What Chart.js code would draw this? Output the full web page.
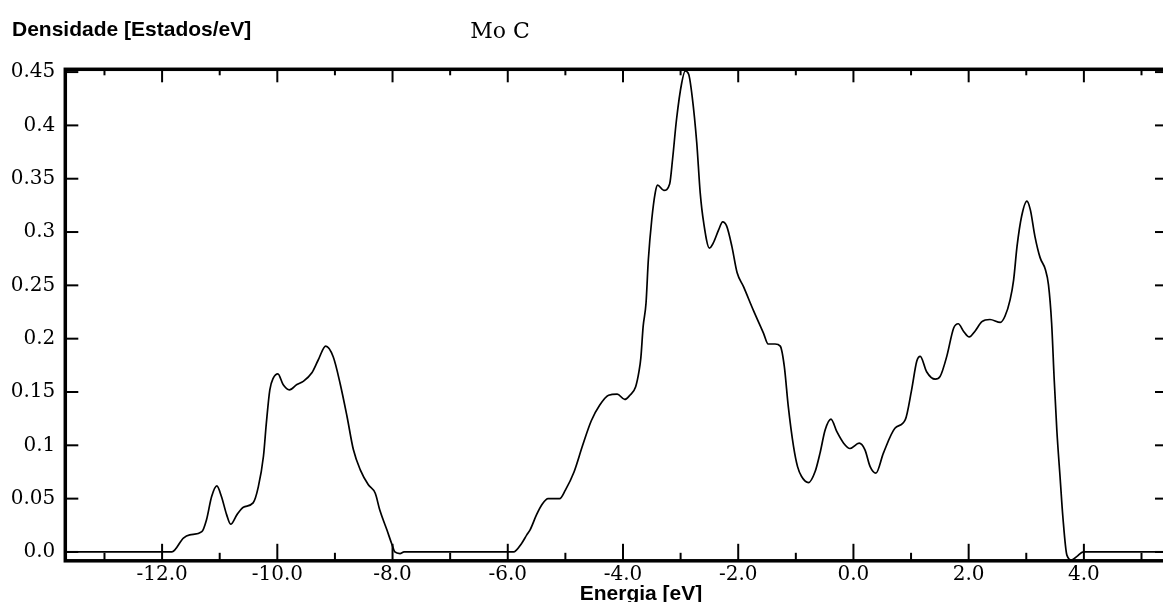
<!DOCTYPE html>
<html>
<head>
<meta charset="utf-8">
<script src="https://cdn.jsdelivr.net/npm/chart.js@4.4.1/dist/chart.umd.min.js"></script>
<style>
  html, body { margin: 0; padding: 0; background: #fff; overflow: hidden; width: 1163px; height: 602px; }
  #wrap { width: 1180px; height: 602px; }
  canvas { display: block; }
</style>
</head>
<body>
<div id="wrap"><canvas id="c" width="1180" height="602"></canvas></div>
<script>
// ---- data ----
const energy = [-14, -11.83, -11.63, -11.52, -11.31, -11.23, -11.14, -11.05, -10.97, -10.88,
  -10.81, -10.70, -10.59, -10.42, -10.33, -10.24, -10.19, -10.13, -10.07, -9.99,
  -9.90, -9.79, -9.66, -9.55, -9.40, -9.29, -9.16, -9.03, -8.91, -8.79,
  -8.68, -8.56, -8.42, -8.30, -8.22, -8.10, -8.01, -7.96, -7.87, -7.80,
  -5.90, -5.76, -5.67, -5.61, -5.50, -5.40, -5.30, -5.10, -5.00, -4.85,
  -4.70, -4.55, -4.40, -4.25, -4.10, -3.97, -3.88, -3.78, -3.72, -3.69,
  -3.65, -3.60, -3.56, -3.50, -3.44, -3.40, -3.29, -3.19, -3.14, -3.07,
  -2.98, -2.92, -2.86, -2.80, -2.72, -2.66, -2.60, -2.50, -2.43, -2.34,
  -2.27, -2.20, -2.11, -2.02, -1.91, -1.74, -1.56, -1.48, -1.36, -1.27,
  -1.20, -1.13, -1.04, -0.97, -0.90, -0.78, -0.665, -0.58, -0.49, -0.39,
  -0.29, -0.17, -0.06, 0.10, 0.20, 0.29, 0.39, 0.52, 0.72, 0.90,
  1.01, 1.10, 1.16, 1.27, 1.42, 1.505, 1.62, 1.74, 1.82, 1.91,
  2.01, 2.11, 2.23, 2.37, 2.55, 2.63, 2.72, 2.78, 2.84, 2.92,
  3.01, 3.07, 3.15, 3.24, 3.33, 3.385, 3.44, 3.485, 3.53, 3.59,
  3.635, 3.705, 3.79, 3.875, 3.99, 6];
const density = [0, 0, 0.013, 0.016, 0.019, 0.030, 0.052, 0.062, 0.052, 0.035,
  0.026, 0.035, 0.042, 0.046, 0.061, 0.090, 0.121, 0.152, 0.163, 0.167,
  0.157, 0.152, 0.157, 0.160, 0.168, 0.180, 0.193, 0.183, 0.158, 0.127,
  0.096, 0.077, 0.063, 0.055, 0.039, 0.021, 0.007, 0, -0.0015, 0,
  0, 0.008, 0.016, 0.021, 0.035, 0.045, 0.050, 0.050, 0.058, 0.075,
  0.100, 0.123, 0.138, 0.147, 0.148, 0.143, 0.147, 0.155, 0.170, 0.182,
  0.2115, 0.2335, 0.274, 0.312, 0.337, 0.344, 0.339, 0.345, 0.368, 0.406,
  0.440, 0.451, 0.448, 0.4275, 0.384, 0.337, 0.309, 0.285, 0.290, 0.302,
  0.3095, 0.3055, 0.2865, 0.262, 0.249, 0.227, 0.205, 0.195, 0.195, 0.193,
  0.174, 0.136, 0.099, 0.080, 0.0707, 0.065, 0.0754, 0.0927, 0.1146, 0.1246,
  0.113, 0.102, 0.097, 0.102, 0.0958, 0.080, 0.0739, 0.0927, 0.116, 0.124,
  0.152, 0.179, 0.1834, 0.169, 0.162, 0.1646, 0.1834, 0.210, 0.214, 0.207,
  0.2016, 0.207, 0.216, 0.218, 0.2153, 0.221, 0.2366, 0.255, 0.2867, 0.315,
  0.329, 0.321, 0.296, 0.276, 0.265, 0.2507, 0.2147, 0.1615, 0.1146, 0.0676,
  0.033, -0.003, -0.0075, -0.0044, 0, 0];

const xTickValues = [-12, -10, -8, -6, -4, -2, 0, 2, 4];
const xTickLabels = ["-12.0", "-10.0", "-8.0", "-6.0", "-4.0", "-2.0", "0.0", "2.0", "4.0"];
const xMinorTicks = [-13, -11, -9, -7, -5, -3, -1, 1, 3, 5];
const yTickValues = [0, 0.05, 0.1, 0.15, 0.2, 0.25, 0.3, 0.35, 0.4, 0.45];
const yTickLabels = ["0.0", "0.05", "0.1", "0.15", "0.2", "0.25", "0.3", "0.35", "0.4", "0.45"];

const titleText = "Densidade [Estados/eV]";
const subjectText = "Mo C";
const xAxisText = "Energia [eV]";

// ---- chart ----
const points = energy.map((e, i) => ({ x: e, y: density[i] }));
const tickFont = { family: "'DejaVu Serif', serif", size: 20 };

const framePlugin = {
  id: 'frame',
  beforeDatasetsDraw(chart) {
    const { ctx, chartArea: a, scales: { x, y } } = chart;
    ctx.save();
    ctx.strokeStyle = '#000';
    ctx.lineCap = 'butt';
    const seg = (x1, y1, x2, y2) => { ctx.beginPath(); ctx.moveTo(x1, y1); ctx.lineTo(x2, y2); ctx.stroke(); };
    ctx.lineWidth = 2;
    xTickValues.forEach(v => {
      const px = x.getPixelForValue(v);
      seg(px, a.bottom, px, a.bottom - 17);
      seg(px, a.top, px, a.top + 13);
    });
    xMinorTicks.forEach(v => {
      const px = x.getPixelForValue(v);
      seg(px, a.bottom, px, a.bottom - 8);
      seg(px, a.top, px, a.top + 6);
    });
    yTickValues.forEach(v => {
      const py = y.getPixelForValue(v);
      seg(a.left, py, a.left + 13, py);
      seg(a.right, py, a.right - 13, py);
    });
    ctx.lineWidth = 3.5;
    ctx.strokeRect(a.left, a.top, a.right - a.left, a.bottom - a.top);
    ctx.restore();
  },
  afterDraw(chart) {
    const { ctx } = chart;
    ctx.save();
    ctx.fillStyle = '#000';
    ctx.textBaseline = 'alphabetic';
    ctx.font = "bold 21px 'Liberation Sans', Arial, sans-serif";
    ctx.textAlign = 'left';
    ctx.fillText(titleText, 12, 36);
    ctx.textAlign = 'center';
    ctx.fillText(xAxisText, 641, 600);
    ctx.font = "22px 'DejaVu Serif', serif";
    ctx.fillText(subjectText, 500, 38);
    ctx.restore();
  }
};

new Chart(document.getElementById('c'), {
  type: 'line',
  data: {
    datasets: [{
      data: points,
      borderColor: '#000',
      borderWidth: 1.7,
      pointRadius: 0,
      cubicInterpolationMode: 'monotone',
      fill: false
    }]
  },
  options: {
    responsive: false,
    animation: false,
    devicePixelRatio: 1,
    layout: { padding: { top: 69.3, right: 12, left: 0, bottom: 0 } },
    plugins: { legend: { display: false }, tooltip: { enabled: false }, title: { display: false } },
    scales: {
      x: {
        type: 'linear',
        min: -13.68, max: 5.46,
        grid: { display: false, drawTicks: false },
        border: { display: false },
        afterBuildTicks: s => { s.ticks = xTickValues.map(v => ({ value: v })); },
        afterFit: s => { s.height = 41.2; },
        ticks: {
          autoSkip: false, maxRotation: 0, padding: 2,
          color: '#000', font: tickFont,
          callback: (v, i) => xTickLabels[i]
        }
      },
      y: {
        type: 'linear',
        min: -0.0083, max: 0.4526,
        grid: { display: false, drawTicks: false },
        border: { display: false },
        afterBuildTicks: s => { s.ticks = yTickValues.map(v => ({ value: v })); },
        afterFit: s => { s.width = 65.3; },
        ticks: {
          autoSkip: false, padding: 10,
          color: '#000', font: tickFont,
          callback: (v, i) => yTickLabels[i]
        }
      }
    }
  },
  plugins: [framePlugin]
});
</script>
</body>
</html>
